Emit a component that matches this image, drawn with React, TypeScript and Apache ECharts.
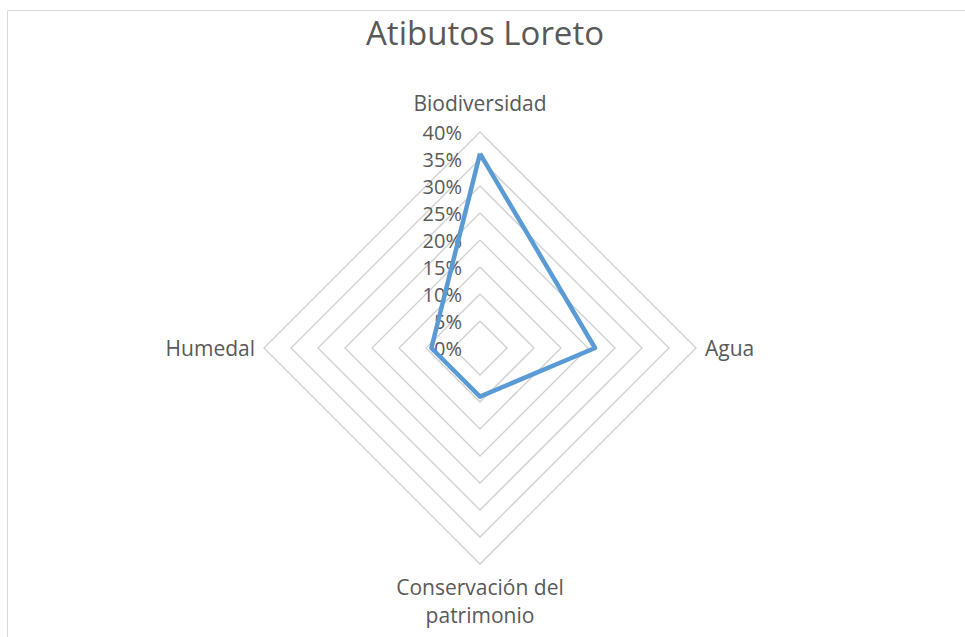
import React, { useEffect, useRef } from "react";
import * as echarts from "echarts";

const titleText = "Atibutos Loreto";
// order: ECharts lays indicators counter-clockwise from the top
const indicatorNames = ["Biodiversidad", "Humedal", "Conservación del\npatrimonio", "Agua"];
const seriesValues = [36, 9, 9, 21.3];
const axisMax = 40;
const axisSplits = 8;

const FONT = "'Open Sans', sans-serif";
const TEXT = "#595959";

export default function App() {
  const ref = useRef<HTMLDivElement>(null);
  useEffect(() => {
    if (!ref.current) return;
    const chart = echarts.init(ref.current, undefined, { renderer: "svg" });
    chart.setOption({
      animation: false,
      backgroundColor: "#ffffff",
      title: {
        text: titleText,
        left: 480,
        textAlign: "center",
        top: 11,
        textStyle: { fontFamily: FONT, fontSize: 33, fontWeight: "normal", color: TEXT },
      },
      graphic: [
        {
          type: "rect",
          shape: { x: 7.5, y: 10.5, width: 1000, height: 700 },
          style: { fill: "none", stroke: "#d9d9d9", lineWidth: 1 },
          silent: true,
        },
      ],
      radar: {
        center: [480, 348],
        radius: 216,
        startAngle: 90,
        shape: "polygon",
        splitNumber: axisSplits,
        axisName: {
          color: TEXT,
          fontFamily: FONT,
          fontSize: 21,
          formatter: (name: string) => {
            if (name.includes("\n"))
              return name
                .split("\n")
                .map((l) => `{multi|${l}}`)
                .join("\n");
            if (name === indicatorNames[0]) return `{top|${name}}`;
            return `{single|${name}}`;
          },
          rich: {
            top: { color: TEXT, fontFamily: FONT, fontSize: 21, lineHeight: 20, padding: [0, 0, 9, 0] },
            single: { color: TEXT, fontFamily: FONT, fontSize: 21, lineHeight: 20 },
            multi: { color: TEXT, fontFamily: FONT, fontSize: 21, lineHeight: 28 },
          },
        },
        nameGap: 9,
        axisLine: { show: false },
        axisTick: { show: false },
        axisLabel: { show: false },
        splitLine: { lineStyle: { color: "#cfcfcf", width: 1.3 } },
        splitArea: { show: false },
        indicator: indicatorNames.map((n, i) => ({
          name: n,
          min: 0,
          max: axisMax,
          ...(i === 0
            ? {
                axisLabel: {
                  show: true,
                  formatter: "{value}%",
                  color: TEXT,
                  fontFamily: FONT,
                  fontSize: 20,
                  lineHeight: 16,
                  margin: 18,
                  showMinLabel: true,
                  showMaxLabel: true,
                },
              }
            : {}),
        })),
      },
      series: [
        {
          type: "radar",
          symbol: "none",
          lineStyle: { color: "#5b9bd5", width: 4.5 },
          itemStyle: { color: "#5b9bd5" },
          data: [{ value: seriesValues, name: titleText }],
        },
      ],
    });
    return () => chart.dispose();
  }, []);
  return (
    <div
      ref={ref}
      style={{ position: "fixed", left: 0, top: 0, width: 965, height: 637 }}
    />
  );
}
